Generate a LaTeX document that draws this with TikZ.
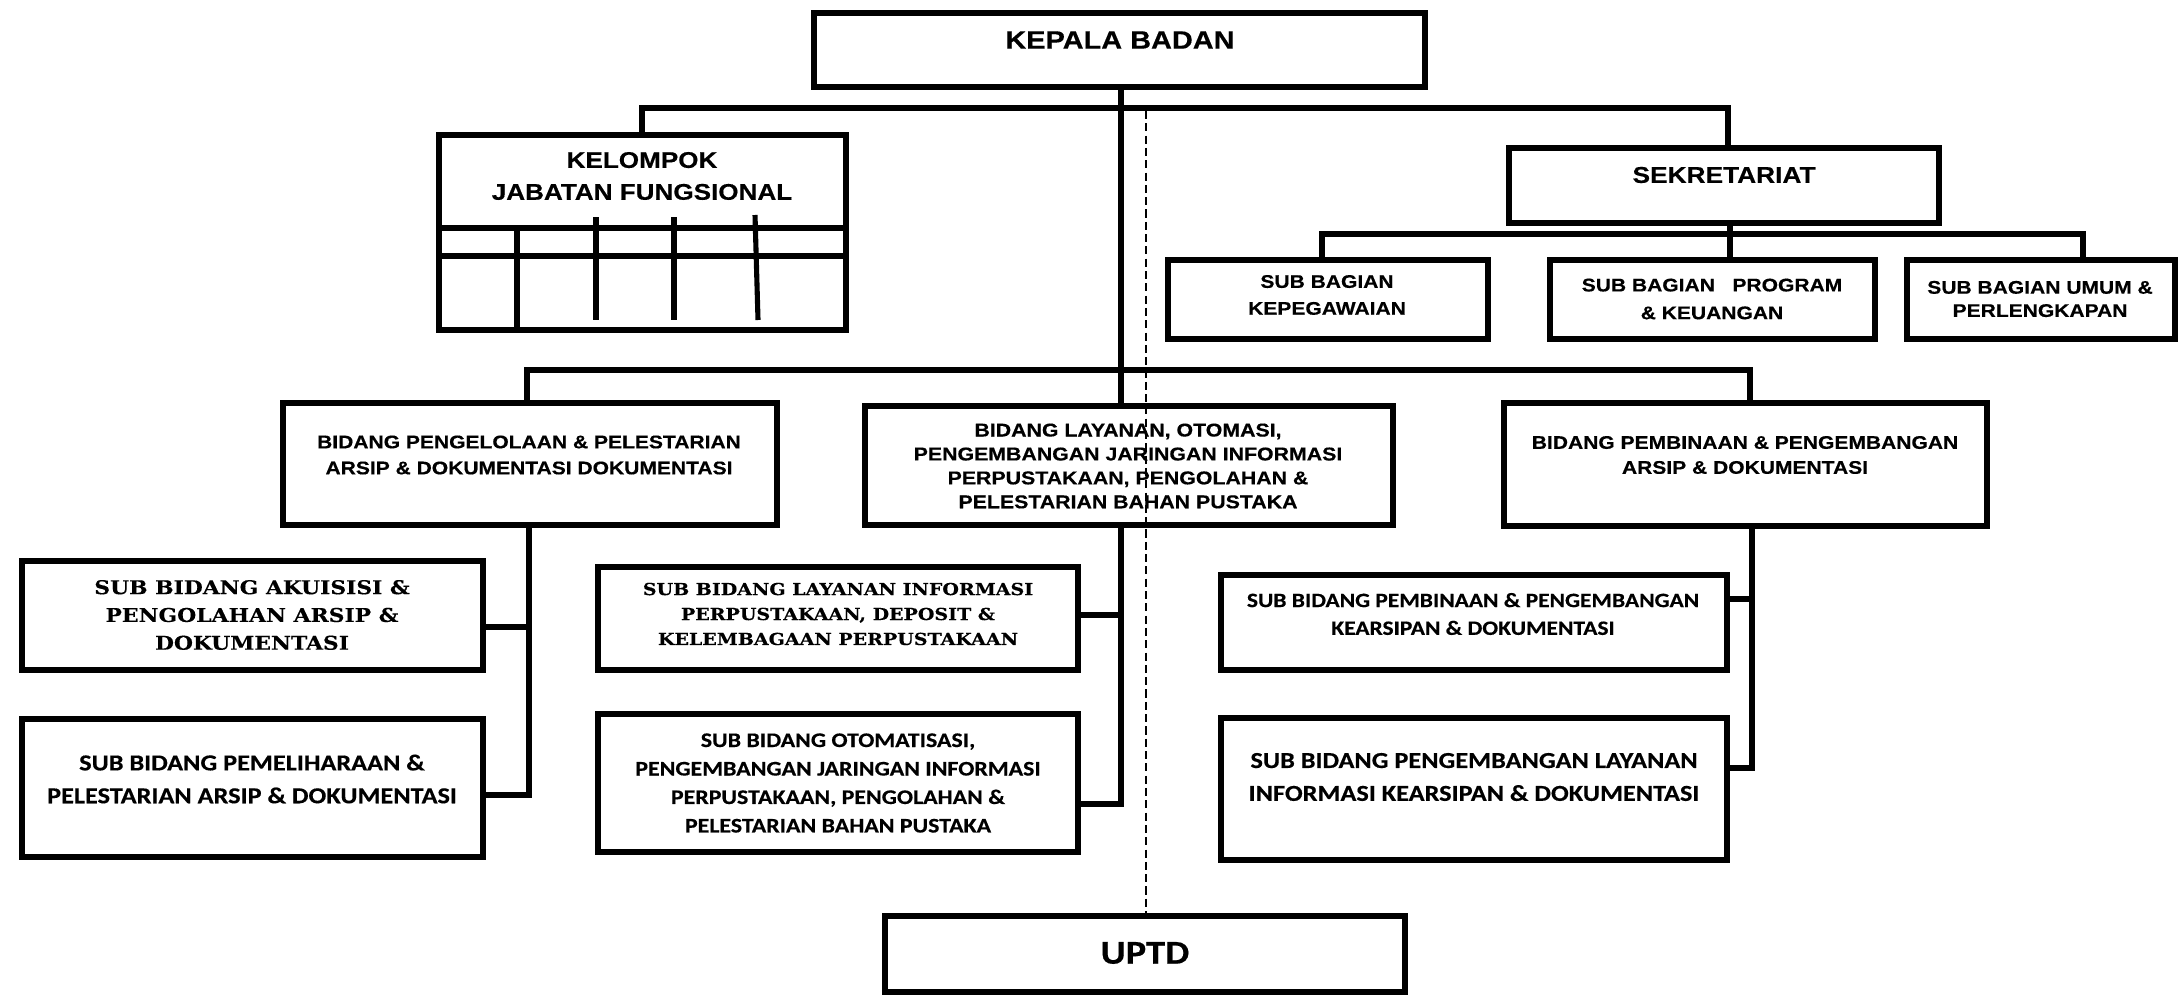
\documentclass[tikz,border=0pt]{standalone}
\usepackage{fontspec}
\setmainfont{Liberation Sans}[FakeStretch=1.15, BoldFeatures={FakeBold=0.4}]
\newfontfamily\calfont{Carlito}[FakeStretch=1.15, BoldFeatures={FakeBold=0.4}]
\newfontfamily\bkfont{DejaVu Serif}[FakeStretch=1.15, BoldFeatures={FakeBold=0.3}]
\usetikzlibrary{fit}
\newcommand\fs[2]{\fontsize{#1}{#2}\selectfont}
\tikzset{
 box/.style={draw, line width=1.55pt, fill=white, inner sep=0pt},
 conn/.style={line width=1.45pt},
 dline/.style={line width=0.45pt, dash pattern=on 2.3pt off 1.2pt},
 lbl/.style={align=center, inner sep=0pt},
}
\begin{document}
\begin{tikzpicture}[x=0.01cm,y=-0.01cm]
\useasboundingbox (0,0) rectangle (2180,997);
% junction coordinates
\coordinate (tx) at (1121,0);
\coordinate (hL) at (642,108);
\coordinate (hR) at (1728,108);
\coordinate (sL) at (1322,234);
\coordinate (sM) at (1730,234);
\coordinate (sR) at (2083,234);
\coordinate (bL) at (527,370);
\coordinate (bR) at (1750,370);
\coordinate (lv) at (529,0);
\coordinate (rv) at (1752,0);
\coordinate (y1) at (0,627);
\coordinate (y2) at (0,795);
\coordinate (y3) at (0,615);
\coordinate (y4) at (0,804);
\coordinate (y5) at (0,599);
\coordinate (y6) at (0,768);
\coordinate (dtop) at (1146,111);

% connectors
\draw[conn] (642,134) -- (hL) -- (hR) -- (1728,147);
\draw[conn] (1121,88) -- (1121,405);
\draw[conn] (1730,224) -- (sM);
\draw[conn] (1322,259) -- (sL) -- (sR) -- (2083,259);
\draw[conn] (sM) -- (1730,259);
\draw[conn] (527,402) -- (bL) -- (bR) -- (1750,402);
% left branch
\draw[conn] (529,526) -- (lv |- y2) -- (484,795);
\draw[conn] (484,627) -- (lv |- y1);
% middle branch
\draw[conn] (1121,526) -- (tx |- y4) -- (1079,804);
\draw[conn] (1079,615) -- (tx |- y3);
% right branch
\draw[conn] (1752,527) -- (rv |- y6) -- (1728,768);
\draw[conn] (1728,599) -- (rv |- y5);

% boxes
\node[box, fit={(814,13) (1425,87)}] (kb) {};
\node[box, fit={(439,135) (846,330)}] (kjf) {};
\node[box, fit={(1509,148) (1939,223)}] (sek) {};
\node[box, fit={(1168,260) (1488,339)}] (sb1) {};
\node[box, fit={(1550,260) (1875,339)}] (sb2) {};
\node[box, fit={(1907,260) (2175,339)}] (sb3) {};
\node[box, fit={(283,403) (777,525)}] (bpl) {};
\node[box, fit={(865,406) (1393,525)}] (blo) {};
\node[box, fit={(1504,403) (1987,526)}] (bpp) {};
\node[box, fit={(22,561) (483,670)}] (sak) {};
\node[box, fit={(22,719) (483,857)}] (spm) {};
\node[box, fit={(598,567) (1078,670)}] (sli) {};
\node[box, fit={(598,714) (1078,852)}] (sot) {};
\node[box, fit={(1221,575) (1727,670)}] (spk) {};
\node[box, fit={(1221,718) (1727,860)}] (spl) {};
\node[box, fit={(885,916) (1405,992)}] (uptd) {};

% inner grid of kelompok jabatan fungsional
\draw[conn] (kjf.west |- 0,228) -- (kjf.east |- 0,228);
\draw[conn] (kjf.west |- 0,256) -- (kjf.east |- 0,256);
\draw[conn] (517,228) -- (517,330);
\draw[conn] (596,217) -- (596,320);
\draw[conn] (674,217) -- (674,320);
\draw[conn] (755,215) -- (758,320);

% dashed line to UPTD
\draw[dline] (dtop) -- (uptd.north -| dtop);

% labels
\node[lbl, font=\bfseries\fs{7.15}{9}] (tkb) at (1120,40) {KEPALA BADAN};
\node[lbl, font=\bfseries\fs{6.45}{9.07}] (tkjf) at (642,176) {KELOMPOK\\JABATAN FUNGSIONAL};
\node[lbl, font=\bfseries\fs{6.5}{8}] (tsek) at (1724,175) {SEKRETARIAT};
\node[lbl, font=\bfseries\fs{5.2}{7.65}] (tsb1) at (1327,295) {SUB BAGIAN\\KEPEGAWAIAN};
\node[lbl, font=\bfseries\fs{5.2}{7.9}] (tsb2) at (1712,299) {SUB BAGIAN\ \ \ PROGRAM\\\& KEUANGAN};
\node[lbl, font=\bfseries\fs{5.2}{6.6}] (tsb3) at (2040,299) {SUB BAGIAN UMUM \&\\PERLENGKAPAN};
\node[lbl, font=\bfseries\fs{5.2}{7.4}] (tbpl) at (529,455) {BIDANG PENGELOLAAN \& PELESTARIAN\\ARSIP \& DOKUMENTASI DOKUMENTASI};
\node[lbl, font=\bfseries\fs{5.27}{6.8}] (tblo) at (1128,466) {BIDANG LAYANAN, OTOMASI,\\PENGEMBANGAN JARINGAN INFORMASI\\PERPUSTAKAAN, PENGOLAHAN \&\\PELESTARIAN BAHAN PUSTAKA};
\node[lbl, font=\bfseries\fs{5.2}{7.1}] (tbpp) at (1745,455) {BIDANG PEMBINAAN \& PENGEMBANGAN\\ARSIP \& DOKUMENTASI};
\node[lbl, font=\bkfont\bfseries\fs{5.4}{7.9}] (tsak) at (252,615) {SUB BIDANG AKUISISI \&\\PENGOLAHAN ARSIP \&\\DOKUMENTASI};
\node[lbl, font=\calfont\bfseries\fs{6.5}{9.35}] (tspm) at (252,779) {SUB BIDANG PEMELIHARAAN \&\\PELESTARIAN ARSIP \& DOKUMENTASI};
\node[lbl, font=\bkfont\bfseries\fs{4.7}{7.1}] (tsli) at (838,614) {SUB BIDANG LAYANAN INFORMASI\\PERPUSTAKAAN, DEPOSIT \&\\KELEMBAGAAN PERPUSTAKAAN};
\node[lbl, font=\calfont\bfseries\fs{5.9}{8.1}] (tsot) at (838,783) {SUB BIDANG OTOMATISASI,\\PENGEMBANGAN JARINGAN INFORMASI\\PERPUSTAKAAN, PENGOLAHAN \&\\PELESTARIAN BAHAN PUSTAKA};
\node[lbl, font=\calfont\bfseries\fs{5.8}{7.9}] (tspk) at (1473,614) {SUB BIDANG PEMBINAAN \& PENGEMBANGAN\\KEARSIPAN \& DOKUMENTASI};
\node[lbl, font=\calfont\bfseries\fs{6.5}{9.35}] (tspl) at (1474,777) {SUB BIDANG PENGEMBANGAN LAYANAN\\INFORMASI KEARSIPAN \& DOKUMENTASI};
\node[lbl, font=\calfont\bfseries\fs{9.5}{11}] (tuptd) at (1145,953) {UPTD};
\end{tikzpicture}
\end{document}
